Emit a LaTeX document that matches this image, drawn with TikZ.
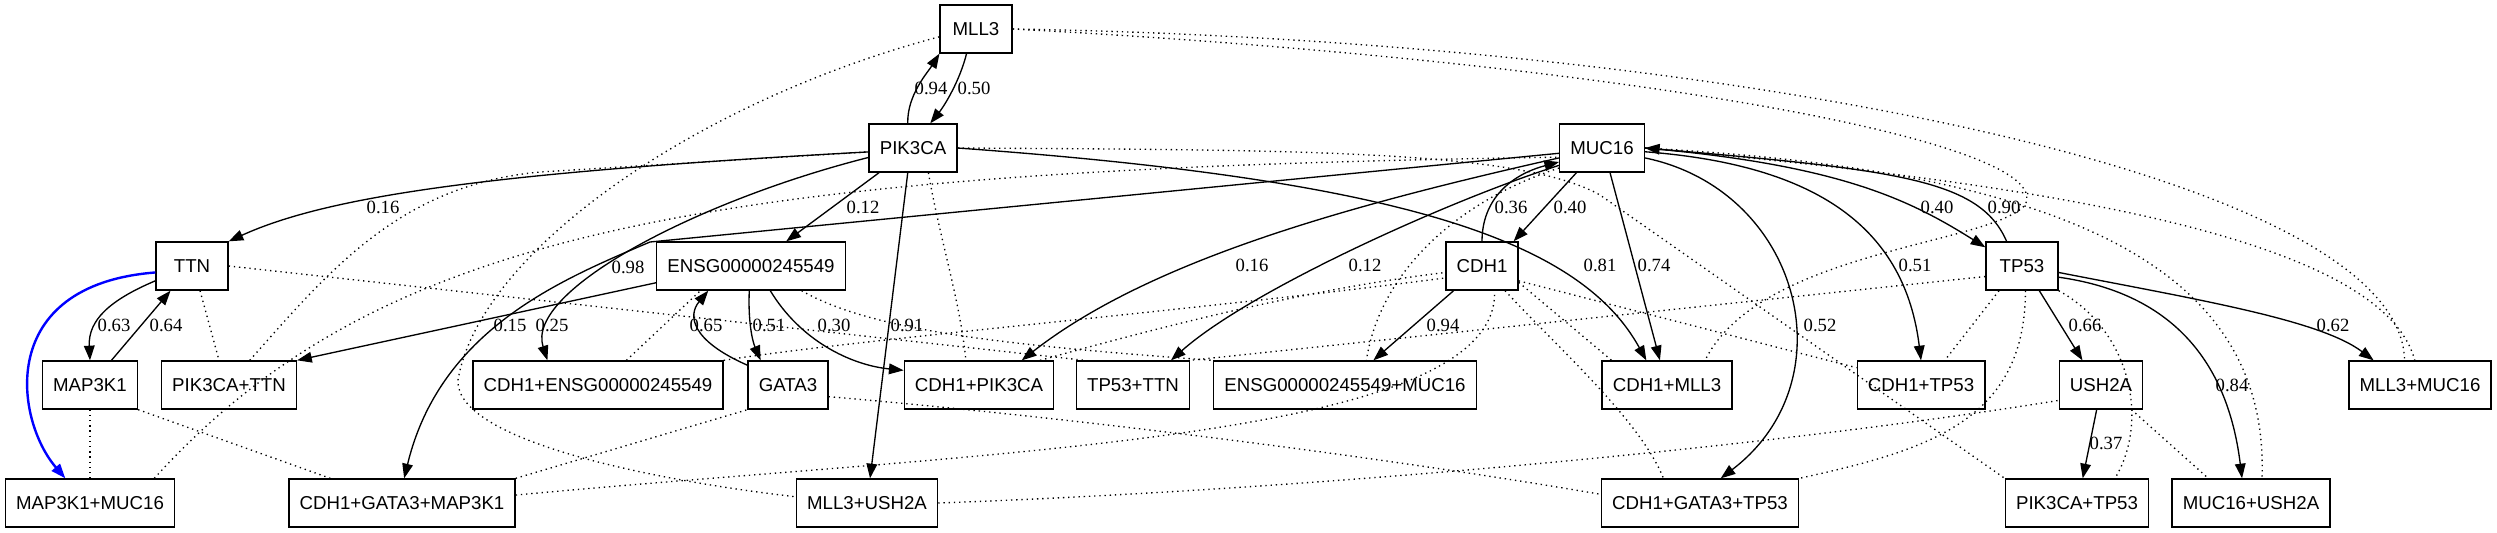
\documentclass[tikz,border=0pt]{standalone}
\usepackage{fontspec}
\setmainfont{Liberation Serif}
\setsansfont{Liberation Sans}
\usetikzlibrary{arrows.meta}
\tikzset{
  gene/.style={draw, rectangle, line width=1pt, font=\sffamily\fontsize{14}{16}\selectfont,
    minimum width=54pt, minimum height=36pt, inner xsep=8pt, inner ysep=0pt},
  wt/.style={font=\rmfamily\fontsize{14}{16}\selectfont, inner sep=0pt},
  part/.style={line width=1pt, dash pattern=on 1pt off 2.9pt},
  best/.style={blue, line width=1.8pt},
}
\begin{document}
\begin{tikzpicture}[x=0.75pt, y=-0.75pt]
      \path[use as bounding box, fill=white] (0,0) rectangle (2497,532);
      \node[gene] (mll) at (976,29) {MLL3};
      \node[gene] (pik) at (913,148) {PIK3CA};
      \node[gene] (muc) at (1602,148) {MUC16};
      \node[gene] (ttn) at (192,266) {TTN};
      \node[gene] (ens) at (751,266) {ENSG00000245549};
      \node[gene] (cdh) at (1482,266) {CDH1};
      \node[gene] (tp) at (2022,266) {TP53};
      \node[gene] (mapk) at (90,385) {MAP3K1};
      \node[gene] (pikttn) at (229,385) {PIK3CA+TTN};
      \node[gene] (cdhens) at (598,385) {CDH1+ENSG00000245549};
      \node[gene] (gata) at (788,385) {GATA3};
      \node[gene] (cdhpik) at (979,385) {CDH1+PIK3CA};
      \node[gene] (tpttn) at (1133,385) {TP53+TTN};
      \node[gene] (ensmuc) at (1345,385) {ENSG00000245549+MUC16};
      \node[gene] (cdhmll) at (1667,385) {CDH1+MLL3};
      \node[gene] (cdhtp) at (1921,385) {CDH1+TP53};
      \node[gene] (ush) at (2101,385) {USH2A};
      \node[gene] (mllmuc) at (2420,385) {MLL3+MUC16};
      \node[gene] (mapmuc) at (90,503) {MAP3K1+MUC16};
      \node[gene] (cgm) at (402,503) {CDH1+GATA3+MAP3K1};
      \node[gene] (mllush) at (867,503) {MLL3+USH2A};
      \node[gene] (cgt) at (1700,503) {CDH1+GATA3+TP53};
      \node[gene] (piktp) at (2077,503) {PIK3CA+TP53};
      \node[gene] (mucush) at (2251,503) {MUC16+USH2A};
      \begin{scope}[part]
        \draw (mapk) -- (mapmuc);
        \draw (mapmuc.21) .. controls (380,230) and (700,170) .. (muc.192);
        \draw (pikttn.50) .. controls (330,270) and (400,185) .. (540,172) -- (pik.185);
        \draw (ttn.288) -- (pikttn.112);
        \draw (cdhens.north east) .. controls (850,340) and (1200,310) .. (cdh.198);
        \draw (cdhens.41) -- (ens.206);
        \draw (cgm.4) .. controls (1000,450) and (1500,440) .. (cdh.297);
        \draw (cgm.north east) -- (gata.south west);
        \draw (mapk.south east) -- (cgm.161);
        \draw (mll.192) .. controls (700,100) and (480,250) .. (458,380)
          .. controls (455,440) and (650,480) .. (mllush.175);
        \draw (mllush.east) .. controls (1300,490) and (1750,450) .. (ush.200);
        \draw (cdhpik.22) .. controls (1150,330) and (1300,290) .. (cdh.190);
        \draw (pik.302) .. controls (940,240) and (960,300) .. (cdhpik.118);
        \draw (tp.196) -- (tpttn.north east);
        \draw (ttn.east) -- (tpttn.153);
        \draw (ens.334) .. controls (870,330) and (1000,345) .. (ensmuc.north west);
        \draw (muc.205) .. controls (1460,200) and (1380,270) .. (ensmuc.49);
        \draw (cdh.336) -- (cdhmll.156);
        \draw (mll.east) .. controls (1600,60) and (2060,140) .. (2025,205)
          .. controls (1990,245) and (1760,250) .. (cdhmll.33);
        \draw (cdh.313) .. controls (1560,350) and (1640,420) .. (cgt.146);
        \draw (gata.344) .. controls (1100,420) and (1400,460) .. (cgt.175);
        \draw (tp.278) .. controls (2025,420) and (1930,450) .. (cgt.north east);
        \draw (cdh.338) -- (cdhtp.165);
        \draw (tp.227) -- (cdhtp.46);
        \draw (pik.east) .. controls (1300,150) and (1520,150) .. (1600,195) -- (piktp.north west);
        \draw (tp.south east) .. controls (2130,330) and (2150,420) .. (piktp.33);
        \draw (muc.east) .. controls (2050,170) and (2270,260) .. (mucush.66);
        \draw (ush.321) -- (mucush.150);
        \draw (mll.east) .. controls (1700,40) and (2400,170) .. (mllmuc.122);
        \draw (muc.east) .. controls (2000,180) and (2380,230) .. (mllmuc.102);
      \end{scope}
      \begin{scope}[line width=1pt, -{Triangle[length=11pt,width=8pt]}]
        \draw (pik.102) .. controls (907,95) and (928,72) .. (mll.214);
        \draw (mll.249) .. controls (960,80) and (945,105) .. (pik.55);
        \draw (pik.185) .. controls (500,172) and (330,195) .. (ttn.north east);
        \draw (pik.216) -- (ens.35);
        \draw (pik.192) .. controls (700,200) and (525,290) .. (cdhens.154);
        \draw (muc.187) -- (650,242) .. controls (560,280) and (440,330) .. (cgm.85);
        \draw (ens.190) -- (pikttn.north east);
        \draw (ens.266) .. controls (748,320) and (752,340) .. (gata.138);
        \draw (gata.154) .. controls (690,340) and (688,315) .. (ens.210);
        \draw (ens.308) .. controls (800,340) and (850,365) .. (cdhpik.169);
        \draw (pik.258) -- (mllush.83);
        \draw (pik.east) .. controls (1400,180) and (1580,240) .. (cdhmll.130);
        \draw (muc.193) .. controls (1350,205) and (1150,260) .. (cdhpik.30);
        \draw (muc.202) .. controls (1450,200) and (1250,290) .. (tpttn.33);
        \draw (cdh.north) .. controls (1482,200) and (1510,175) .. (muc.198);
        \draw (muc.224) -- (cdh.38);
        \draw (muc.288) -- (cdhmll.106);
        \draw (cdh.221) -- (ensmuc.41);
        \draw (muc.347) .. controls (1800,190) and (1850,380) .. (cgt.50);
        \draw (muc.355) .. controls (1820,165) and (1905,230) .. (cdhtp.north);
        \draw (muc.east) .. controls (1840,165) and (1910,200) .. (tp.153);
        \draw (tp.122) .. controls (1980,180) and (1900,170) .. (muc.east);
        \draw (tp.305) -- (ush.127);
        \draw (tp.350) .. controls (2200,300) and (2320,320) .. (mllmuc.152);
        \draw (tp.343) .. controls (2150,290) and (2225,340) .. (mucush.110);
        \draw (ush.260) -- (piktp.77);
        \draw (ttn.202) .. controls (110,300) and (88,320) .. (mapk.north);
        \draw (mapk.49) -- (ttn.229);
        \draw[best] (ttn.190) .. controls (-5,285) and (15,420) .. (mapmuc.135);
      \end{scope}
      \node[wt] (l1) at (931,88) {0.94};
      \node[wt] (l2) at (974,88) {0.50};
      \node[wt] (l3) at (383,207) {0.16};
      \node[wt] (l4) at (863,207) {0.12};
      \node[wt] (l5) at (552,325) {0.25};
      \node[wt] (l6) at (628,267) {0.98};
      \node[wt] (l7) at (510,325) {0.15};
      \node[wt] (l8) at (769,325) {0.51};
      \node[wt] (l9) at (706,325) {0.65};
      \node[wt] (l10) at (834,325) {0.30};
      \node[wt] (l11) at (907,325) {0.91};
      \node[wt] (l12) at (1600,265) {0.81};
      \node[wt] (l13) at (1252,265) {0.16};
      \node[wt] (l14) at (1365,265) {0.12};
      \node[wt] (l15) at (1511,207) {0.36};
      \node[wt] (l16) at (1570,207) {0.40};
      \node[wt] (l17) at (1654,265) {0.74};
      \node[wt] (l18) at (1443,325) {0.94};
      \node[wt] (l19) at (1820,325) {0.52};
      \node[wt] (l20) at (1915,265) {0.51};
      \node[wt] (l21) at (1937,207) {0.40};
      \node[wt] (l22) at (2004,207) {0.90};
      \node[wt] (l23) at (2085,325) {0.66};
      \node[wt] (l24) at (2333,325) {0.62};
      \node[wt] (l25) at (2232,385) {0.84};
      \node[wt] (l26) at (2106,443) {0.37};
      \node[wt] (l27) at (114,325) {0.63};
      \node[wt] (l28) at (166,325) {0.64};
    \end{tikzpicture}
\end{document}
